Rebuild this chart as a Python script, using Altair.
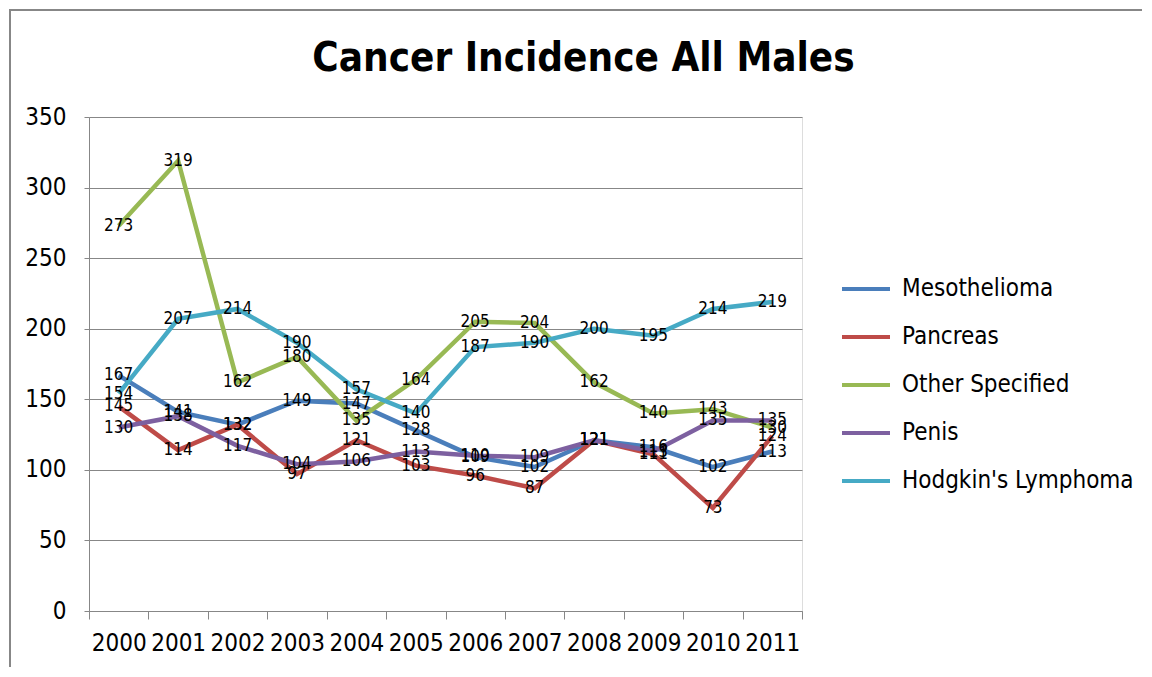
import altair as alt
import pandas as pd

years = [str(y) for y in range(2000, 2012)]
series_names = ["Mesothelioma", "Pancreas", "Other Specified", "Penis", "Hodgkin's Lymphoma"]
mesothelioma = [167, 141, 132, 149, 147, 128, 109, 102, 121, 116, 102, 113]
pancreas = [145, 114, 132, 97, 121, 103, 96, 87, 121, 111, 73, 124]
other_specified = [273, 319, 162, 180, 135, 164, 205, 204, 162, 140, 143, 130]
penis = [130, 138, 117, 104, 106, 113, 110, 109, 121, 113, 135, 135]
hodgkins = [154, 207, 214, 190, 157, 140, 187, 190, 200, 195, 214, 219]
colors = ["#4A7EBB", "#BE4B48", "#98B954", "#7D60A0", "#46AAC5"]

rows = []
for name, vals in zip(series_names, [mesothelioma, pancreas, other_specified, penis, hodgkins]):
    for y, v in zip(years, vals):
        rows.append({"year": y, "series": name, "value": v})
df = pd.DataFrame(rows)

FONT = "Liberation Sans Narrow, Arial Narrow, DejaVu Sans Condensed, Liberation Sans, sans-serif"
W, H = 713, 494

x_enc = alt.X("year:O", title=None, bandPosition=0.5,
              scale=alt.Scale(type="band", paddingInner=0, paddingOuter=0),
              axis=alt.Axis(labelAngle=0, tickBand="extent", tickSize=8, labelPadding=12,
                            labelFontSize=24, labelFont=FONT, labelColor="#000000",
                            domainColor="#878787", tickColor="#878787", grid=False))
y_enc = alt.Y("value:Q", title=None,
              scale=alt.Scale(domain=[0, 350], nice=False),
              axis=alt.Axis(values=list(range(0, 351, 50)), tickSize=5, labelPadding=18,
                            labelFontSize=24, labelFont=FONT, labelColor="#000000",
                            domainColor="#878787", tickColor="#878787",
                            grid=True, gridColor="#878787", gridWidth=1))

base = alt.Chart(df)

lines = base.mark_line(strokeWidth=4.5).encode(
    x=x_enc, y=y_enc,
    color=alt.Color("series:N", scale=alt.Scale(domain=series_names, range=colors),
                    sort=series_names,
                    legend=alt.Legend(title=None, orient="none", legendX=751, legendY=146,
                                      symbolType="stroke", symbolSize=2304, symbolStrokeWidth=4,
                                      labelFontSize=24, labelFont=FONT, labelColor="#000000",
                                      labelOffset=10, rowPadding=10, padding=0, labelLimit=0)),
    detail="series:N",
)

labels = base.mark_text(fontSize=17, font=FONT, color="#000000", align="center",
                        baseline="middle").encode(
    x=x_enc, y=y_enc, text="value:Q",
)

frame = alt.Chart(pd.DataFrame({"a": [0]})).mark_rect(
    fillOpacity=0, stroke="#878787", strokeWidth=2
).encode(x=alt.value(-79), x2=alt.value(1100), y=alt.value(-107), y2=alt.value(700))

chart = alt.layer(lines, labels, frame).properties(
    width=W, height=H,
    title=alt.Title("Cancer Incidence All Males", fontSize=40, font=FONT, fontWeight="bold",
                    anchor="middle", frame="group", dx=138, offset=-102, baseline="alphabetic",
                    color="#000000"),
    autosize=alt.AutoSizeParams(type="none"),
    padding={"left": 81, "top": 109, "right": 340, "bottom": 56},
).configure_view(stroke=None).configure(background="#FFFFFF")

chart.save("out.html", embed_options={"renderer": "svg", "actions": False})
